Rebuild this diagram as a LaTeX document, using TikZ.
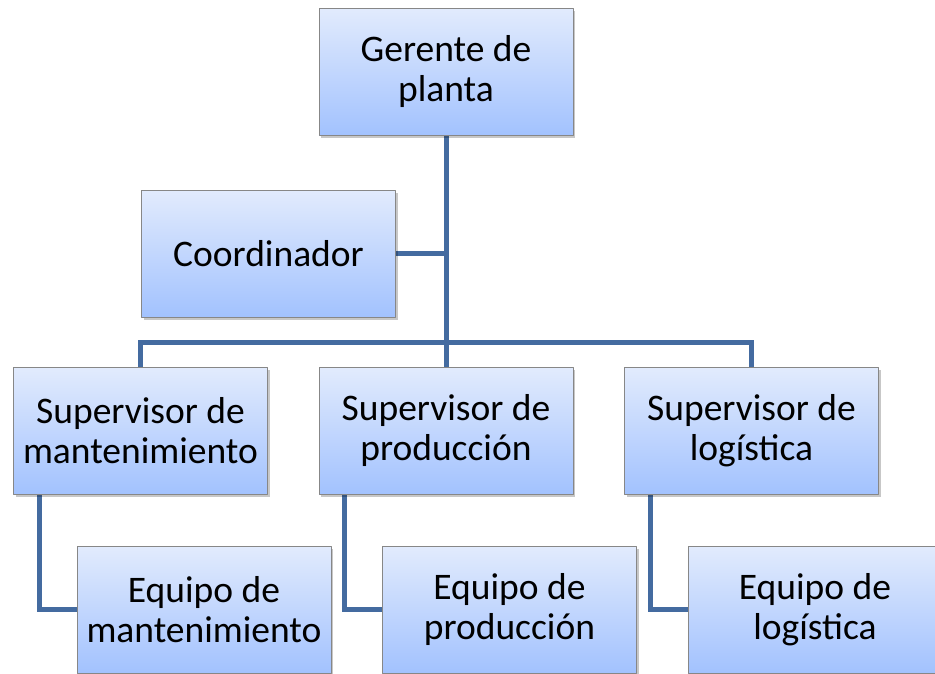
\documentclass[tikz,border=0pt]{standalone}
\usepackage{fontspec}
\setmainfont{Carlito}
\usetikzlibrary{shadows,backgrounds}
\definecolor{linea}{RGB}{68,107,160}
\definecolor{arriba}{RGB}{226,235,253}
\definecolor{abajo}{RGB}{162,194,254}
\definecolor{borde}{RGB}{135,135,135}
\begin{document}
\begin{tikzpicture}[x=1pt,y=-1pt,line join=round,line cap=round,
	caja/.style={draw=borde,line width=0.8pt,top color=arriba,bottom color=abajo,
		minimum width=254pt,minimum height=127pt,inner sep=0pt,align=center,
		font=\fontsize{37.5}{40.5}\selectfont,
		drop shadow={shadow xshift=2pt,shadow yshift=-3pt,opacity=0.22,fill=black}},
	enlace/.style={draw=linea,line width=5pt}]
	\clip (0,0) rectangle (935,673);
	\def \yb{342};
	\node[caja] (gerente) at (446,71.5) {Gerente de\\planta};
	\node[caja] (coord) at (268.5,253.5) {Coordinador};
	\foreach \x/\n/\t in {140.5/mant/mantenimiento,446/prod/producción,751.5/log/logística}{
		\node[caja] (sup\n) at (\x,430.5) {Supervisor de\\\t};
		\node[caja] (eq\n) at (\x+63.5,609.5) {Equipo de\\\t};
	}
	\begin{scope}[on background layer]
		\coordinate (bus) at (446,\yb);
		\draw[enlace] (gerente.south) -- (bus);
		\draw[enlace] (coord.east) -- (coord.east -| gerente.south);
		\draw[enlace] (supmant.north) |- (bus) -| (suplog.north);
		\draw[enlace] (bus) -- (supprod.north);
		\foreach \n in {mant,prod,log}{\draw[enlace] ([xshift=26pt]sup\n.south west) |- (eq\n.west);}
	\end{scope}
\end{tikzpicture}
\end{document}
